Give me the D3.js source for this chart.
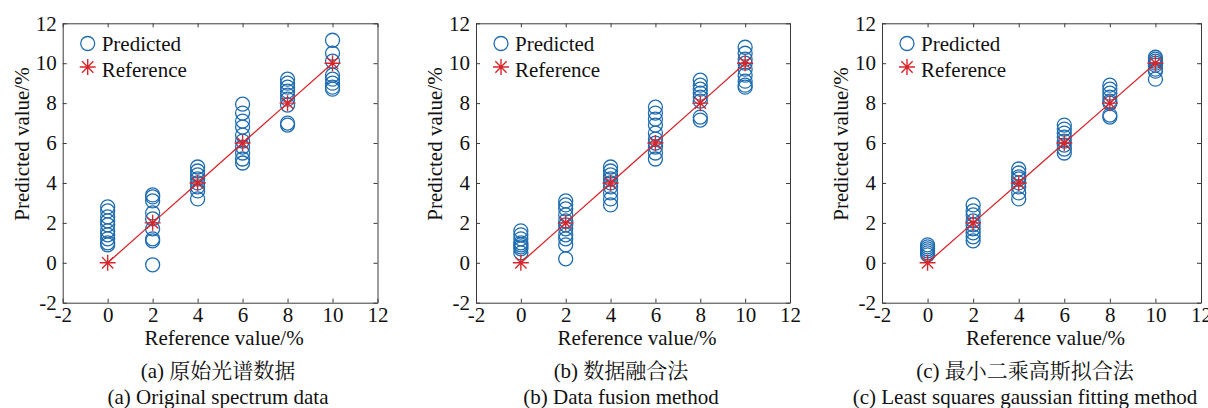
<!DOCTYPE html>
<html>
<head>
<meta charset="utf-8">
<script src="https://cdn.jsdelivr.net/npm/d3@7"></script>
<style>
  html, body { margin: 0; padding: 0; background: #fff; }
  svg { display: block; }
  text { font-family: "Liberation Serif", "Times New Roman", "Noto Serif CJK SC", "Noto Sans CJK SC", serif; fill: #111; }
</style>
</head>
<body>
<svg id="chart" width="1208" height="408"></svg>
<script>
// Reference concentrations (x positions of the sample groups)
const referenceLevels = [0, 2, 4, 6, 8, 10];

// Predicted values for each reference level, one group per level
const predictedOriginal = [
  [2.8, 2.6, 2.3, 2.1, 1.9, 1.6, 1.4, 1.2, 1.0, 0.9],
  [3.4, 3.3, 3.1, 2.5, 2.2, 1.7, 1.2, 1.1, -0.1],
  [4.8, 4.6, 4.4, 4.2, 4.0, 3.8, 3.6, 3.2],
  [7.95, 7.5, 7.1, 6.8, 6.4, 6.1, 5.8, 5.5, 5.2, 5.0],
  [9.2, 9.0, 8.8, 8.6, 8.4, 8.2, 7.9, 7.0, 6.9],
  [11.15, 10.5, 10.1, 9.4, 9.2, 9.0, 8.8, 8.7]
];
const predictedFusion = [
  [1.6, 1.4, 1.2, 1.0, 0.9, 0.8, 0.7, 0.5],
  [3.1, 2.9, 2.7, 2.4, 2.1, 1.9, 1.7, 1.4, 1.2, 0.9, 0.2],
  [4.8, 4.6, 4.4, 4.2, 4.0, 3.8, 3.5, 3.2, 2.9],
  [7.8, 7.5, 7.2, 6.9, 6.5, 6.2, 6.0, 5.8, 5.5, 5.2],
  [9.15, 8.9, 8.7, 8.5, 8.3, 8.1, 7.3, 7.15],
  [10.8, 10.5, 10.2, 10.0, 9.7, 9.4, 9.1, 8.9, 8.8]
];
const predictedGaussian = [
  [0.9, 0.8, 0.7, 0.6, 0.5, 0.4],
  [2.9, 2.6, 2.4, 2.1, 1.9, 1.7, 1.5, 1.3, 1.1],
  [4.7, 4.5, 4.3, 4.2, 4.0, 3.8, 3.5, 3.2],
  [6.9, 6.7, 6.5, 6.3, 6.1, 5.9, 5.7, 5.5],
  [8.9, 8.7, 8.5, 8.3, 8.1, 8.0, 7.4, 7.3],
  [10.3, 10.2, 10.1, 10.0, 9.9, 9.7, 9.6, 9.2]
];

// Axis ticks (same on both axes)
const axisTicks = [-2, 0, 2, 4, 6, 8, 10, 12];

// Text
const xAxisTitle = "Reference value/%";
const yAxisTitle = "Predicted value/%";
const legendLabels = ["Predicted", "Reference"];
const captionsZh = ["(a) 原始光谱数据", "(b) 数据融合法", "(c) 最小二乘高斯拟合法"];
const captionsEn = ["(a) Original spectrum data", "(b) Data fusion method", "(c) Least squares gaussian fitting method"];

// Panel layout: plot box edges and caption centre
const panels = [
  { data: predictedOriginal, left: 62.7, right: 377.5, captionX: 218 },
  { data: predictedFusion,   left: 476,  right: 790,   captionX: 621 },
  { data: predictedGaussian, left: 882,  right: 1201,  captionX: 1025 }
];
const plotTop = 23.3, plotBottom = 302.7;

const blue = "#1f6db0";
const red = "#d7262b";
const axisColor = "#3a3a3a";
const fontSize = 21;
const markerR = 7;
const tickText = d => String(d); // plain hyphen-minus, as in the printed figure

const svg = d3.select("#chart");

// MATLAB-style asterisk marker: 8 spokes
function drawStar(g, cx, cy, r, color) {
  const d = [0, 45, 90, 135].map(a => {
    const t = a * Math.PI / 180;
    const dx = r * Math.cos(t), dy = r * Math.sin(t);
    return `M${cx - dx},${cy - dy}L${cx + dx},${cy + dy}`;
  }).join("");
  g.append("path").attr("d", d).attr("stroke", color).attr("stroke-width", 1.4).attr("fill", "none");
}

panels.forEach((p, i) => {
  const x = d3.scaleLinear().domain([-2, 12]).range([p.left, p.right]);
  const y = d3.scaleLinear().domain([-2, 12]).range([plotBottom, plotTop]);
  const g = svg.append("g");

  // Axes with inward ticks on all four sides
  const styleAxis = sel => {
    sel.selectAll("path.domain").attr("stroke", axisColor).attr("stroke-width", 1);
    sel.selectAll(".tick line").attr("stroke", axisColor).attr("stroke-width", 1);
    sel.selectAll("text").attr("font-size", fontSize).attr("fill", "#111");
  };
  g.append("g").attr("transform", `translate(0,${plotBottom})`)
    .call(d3.axisBottom(x).tickValues(axisTicks).tickFormat(tickText)
      .tickSizeInner(-4).tickSizeOuter(0).tickPadding(4))
    .call(styleAxis);
  g.append("g").attr("transform", `translate(${p.left},0)`)
    .call(d3.axisLeft(y).tickValues(axisTicks).tickFormat(tickText)
      .tickSizeInner(-4).tickSizeOuter(0).tickPadding(6))
    .call(styleAxis);
  g.append("g").attr("transform", `translate(0,${plotTop})`)
    .call(d3.axisTop(x).tickValues(axisTicks).tickSizeInner(-4).tickSizeOuter(0).tickFormat(""))
    .call(styleAxis);
  g.append("g").attr("transform", `translate(${p.right},0)`)
    .call(d3.axisRight(y).tickValues(axisTicks).tickSizeInner(-4).tickSizeOuter(0).tickFormat(""))
    .call(styleAxis);

  // Predicted circles
  const pts = [];
  p.data.forEach((vals, k) => vals.forEach(v => pts.push({ ref: referenceLevels[k], v })));
  g.append("g").selectAll("circle").data(pts).join("circle")
    .attr("cx", d => x(d.ref)).attr("cy", d => y(d.v)).attr("r", markerR)
    .attr("fill", "none").attr("stroke", blue).attr("stroke-width", 1.3);

  // Reference line and stars
  const line = d3.line().x(d => x(d)).y(d => y(d));
  g.append("path").datum(referenceLevels).attr("d", line)
    .attr("fill", "none").attr("stroke", red).attr("stroke-width", 1.3);
  referenceLevels.forEach(r => drawStar(g, x(r), y(r), 8, red));

  // Legend
  const lx = p.left + 25;
  g.append("circle").attr("cx", lx).attr("cy", 43.5).attr("r", markerR)
    .attr("fill", "none").attr("stroke", blue).attr("stroke-width", 1.3);
  drawStar(g, lx, 67, 8, red);
  g.append("text").attr("x", lx + 14).attr("y", 50.5).attr("font-size", fontSize).text(legendLabels[0]);
  g.append("text").attr("x", lx + 14).attr("y", 76.5).attr("font-size", fontSize).text(legendLabels[1]);

  // Axis titles
  g.append("text").attr("x", (p.left + p.right) / 2 + 4).attr("y", 345)
    .attr("text-anchor", "middle").attr("font-size", fontSize).text(xAxisTitle);
  g.append("text")
    .attr("transform", `translate(${p.left - 34},144) rotate(-90)`)
    .attr("text-anchor", "middle").attr("font-size", fontSize).text(yAxisTitle);

  // Captions
  g.append("text").attr("x", p.captionX).attr("y", 378)
    .attr("text-anchor", "middle").attr("font-size", fontSize).text(captionsZh[i]);
  g.append("text").attr("x", p.captionX).attr("y", 404)
    .attr("text-anchor", "middle").attr("font-size", fontSize).text(captionsEn[i]);
});
</script>
</body>
</html>
